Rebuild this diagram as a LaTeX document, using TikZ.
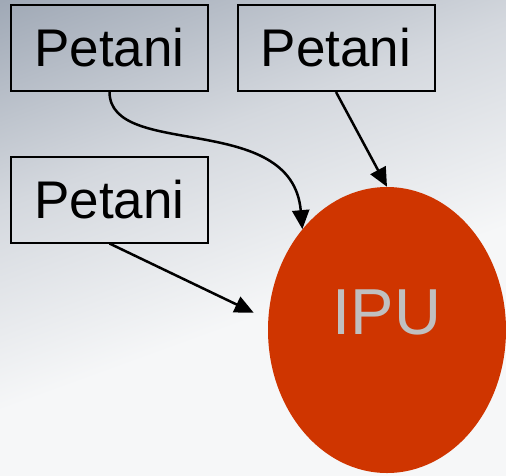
\documentclass[tikz,border=0pt]{standalone}
\usepackage{fontspec}
\setmainfont{Liberation Sans}
\usepackage{tikz}
\usetikzlibrary{arrows.meta,shapes.geometric}
\usepackage{xcolor}

\definecolor{ipured}{RGB}{207,53,0}
\definecolor{ipugray}{RGB}{192,192,192}
\definecolor{bgtop}{RGB}{160,169,182}
\definecolor{bgmid}{RGB}{212,216,222}
\definecolor{bgbot}{RGB}{246,247,248}
\pgfdeclareverticalshading{bgshade}{100bp}{color(0bp)=(bgbot); color(42bp)=(bgbot);
  color(62bp)=(bgmid); color(82bp)=(bgtop); color(100bp)=(bgtop)}

\begin{document}
\begin{tikzpicture}[x=1pt,y=-1pt,
  petani/.style={draw,line width=2pt,minimum width=197pt,minimum height=86pt,
    inner sep=0pt,font=\fontsize{53}{60}\selectfont},
  panah/.style={line width=2.5pt,-{Triangle[length=19pt,width=17pt]}}]
  \useasboundingbox (0,0) rectangle (506,475);
  % background
  \shade[shading=bgshade, shading angle=20] (0,0) rectangle (506,475);

  \node[petani] (p1) at (109.5,48) {Petani};
  \node[petani] (p2) at (336,48) {Petani};
  \node[petani] (p3) at (109.5,199.5) {Petani};

  \node[ellipse,fill=ipured,minimum width=238pt,minimum height=286pt,inner sep=0pt,
    text=ipugray,font=\fontsize{65}{70}\selectfont,text depth=36pt] (ipu) at (387,330) {IPU};

  \draw[panah] (p1.south) .. controls (110,160) and (292,110) .. (ipu.130);
  \draw[panah] (p2.south) -- (ipu.north);
  \draw[panah,shorten >=16pt] (p3.south) -- (ipu.175);
\end{tikzpicture}
\end{document}
